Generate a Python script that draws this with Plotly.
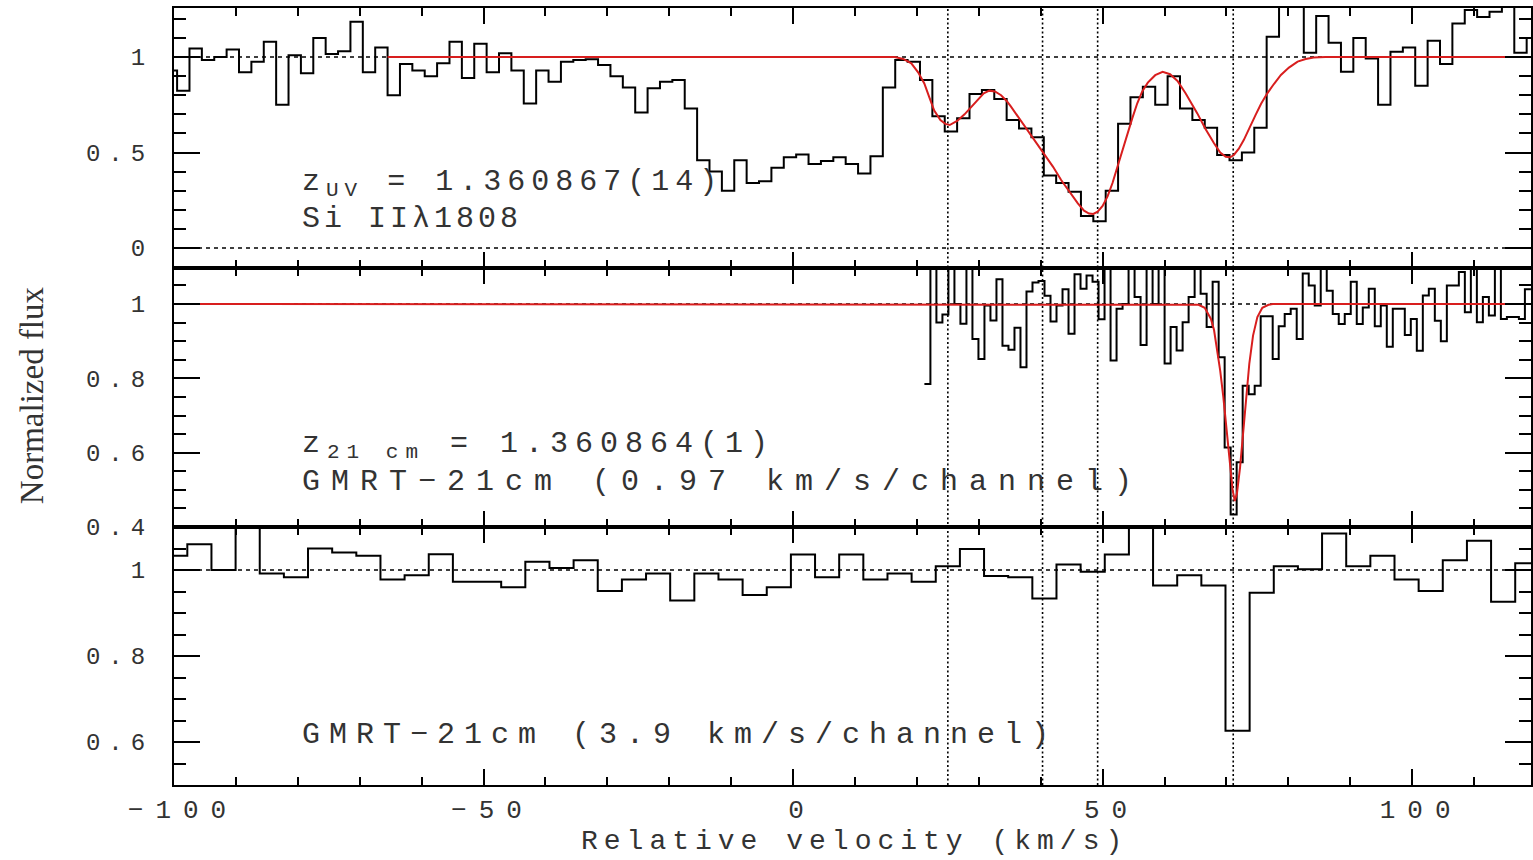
import json
import numpy as np
import plotly.graph_objects as go

# ---------------- data ----------------
# Si II 1808 (UV spectrum), 2 km/s pixels
uv_first_edge = -101.5
uv_pixel_width = 2.0
uv_flux = [
    0.93, 0.824, 1.045, 0.984, 1.0, 1.04, 0.92, 0.976, 1.08, 0.75,
    1.01, 0.915, 1.10, 1.016, 1.03, 1.185, 0.92, 1.05, 0.80, 0.963,
    0.93, 0.90, 0.967, 1.08, 0.89, 1.07, 0.92, 1.02, 0.93, 0.757,
    0.93, 0.87, 0.976, 0.984, 0.988, 0.958, 0.90, 0.84, 0.71, 0.836,
    0.87, 0.88, 0.73, 0.46, 0.40, 0.30, 0.46, 0.34, 0.35, 0.42,
    0.475, 0.49, 0.44, 0.455, 0.475, 0.44, 0.39, 0.48, 0.84, 0.984,
    0.976, 0.88, 0.69, 0.61, 0.68, 0.806, 0.827, 0.78, 0.67, 0.626,
    0.58, 0.38, 0.34, 0.295, 0.167, 0.14, 0.30, 0.65, 0.79, 0.845,
    0.75, 0.90, 0.73, 0.67, 0.63, 0.487, 0.46, 0.50, 0.63, 1.106,
    1.3, 1.3, 1.023, 1.215, 1.075, 0.923, 1.10, 0.993, 0.75, 1.028,
    1.05, 0.85, 1.085, 0.963, 1.176, 1.246, 1.21, 1.237, 1.3, 1.023,
    1.1,
]

# GMRT 21-cm, 0.97 km/s per channel
hr_first_edge = 21.215
hr_channel_width = 0.97
hr_flux = [
    0.785, 1.12, 0.95, 0.972, 1.12, 1.0, 0.947, 1.12, 0.906, 0.852,
    0.996, 0.956, 1.067, 0.888, 0.877, 0.936, 0.83, 1.034, 1.058, 1.062,
    1.022, 0.953, 0.996, 1.04, 0.92, 1.08, 1.041, 1.077, 1.06, 0.959,
    1.12, 0.848, 0.987, 1.0, 1.12, 1.019, 0.89, 1.12, 1.0, 1.1,
    0.84, 0.938, 0.875, 0.951, 1.019, 1.12, 1.028, 0.938, 1.06, 0.857,
    0.614, 0.434, 0.574, 0.78, 0.757, 0.78, 0.967, 0.967, 0.852, 0.94,
    0.973, 0.987, 0.906, 1.082, 1.05, 0.996, 1.12, 1.036, 0.973, 0.946,
    0.973, 1.06, 0.946, 0.991, 1.041, 0.94, 0.996, 0.885, 0.987, 0.987,
    0.917, 0.96, 0.874, 1.023, 1.041, 0.955, 0.9, 1.05, 1.05, 1.086,
    0.978, 1.12, 0.951, 1.019, 0.969, 1.12, 0.96, 0.965, 0.965, 0.96,
    1.04,
]

# GMRT 21-cm, 3.9 km/s per channel
lr_first_edge = -101.75
lr_channel_width = 3.9
lr_flux = [
    1.033, 1.06, 1.0, 1.1, 0.992, 0.983, 1.05, 1.041, 1.033, 0.978,
    0.988, 1.037, 0.973, 0.973, 0.96, 1.019, 1.005, 1.023, 0.951, 0.978,
    0.992, 0.929, 0.992, 0.978, 0.942, 0.96, 1.036, 0.983, 1.036, 0.978,
    0.992, 0.973, 1.009, 1.049, 0.986, 0.983, 0.934, 1.013, 0.996, 1.036,
    1.098, 0.964, 0.988, 0.964, 0.626, 0.947, 1.009, 1.002, 1.085, 1.009,
    1.033, 0.978, 0.951, 1.023, 1.068, 0.926, 1.016,
]

# Fitted profiles (red)
uv_fit_velocity = [
    -65.5, 16.4, 17.8, 19.1, 20.2, 21.2, 22.0, 22.8, 23.8, 24.6, 25.3, 26.5,
    27.7, 28.8, 29.8, 30.8, 31.7, 32.6, 33.6, 34.5, 35.2, 36.5, 37.9, 39.2,
    40.6, 42.0, 43.3, 44.7, 46.0, 47.0, 47.8, 48.5, 49.2, 50.0, 50.8, 51.6,
    52.4, 53.2, 54.0, 54.8, 55.6, 56.4, 57.3, 58.5, 59.7, 60.9, 62.1, 63.4,
    65.3, 66.6, 68.0, 69.0, 69.9, 70.6, 71.2, 72.0, 72.8, 73.7, 74.7, 75.6,
    76.6, 77.7, 78.8, 80.1, 81.5, 82.8, 84.1, 86.0, 119.2,
]
uv_fit_flux = [
    1.0, 1.0, 0.99, 0.967, 0.92, 0.862, 0.79, 0.72, 0.67, 0.65, 0.644, 0.665,
    0.70, 0.74, 0.775, 0.81, 0.824, 0.82, 0.80, 0.77, 0.74, 0.68, 0.618, 0.555,
    0.496, 0.425, 0.356, 0.29, 0.234, 0.195, 0.18, 0.178, 0.19, 0.22, 0.27, 0.34,
    0.426, 0.51, 0.60, 0.68, 0.758, 0.82, 0.866, 0.905, 0.923, 0.91, 0.875, 0.81,
    0.705, 0.625, 0.548, 0.50, 0.478, 0.475, 0.487, 0.52, 0.565, 0.63, 0.696, 0.755,
    0.81, 0.86, 0.906, 0.945, 0.976, 0.99, 0.998, 1.0, 1.0,
]
hr_fit_velocity = [
    -97.6, 64.0, 65.5, 66.5, 67.5, 68.0, 68.5, 69.0, 69.5, 70.0, 70.5, 71.0,
    71.35, 71.7, 72.2, 72.7, 73.2, 73.7, 74.3, 75.0, 75.8, 76.8, 77.5, 119.2,
]
hr_fit_flux = [
    1.0, 1.0, 0.998, 0.99, 0.96, 0.93, 0.88, 0.82, 0.75, 0.66, 0.57, 0.50,
    0.47, 0.49, 0.56, 0.66, 0.75, 0.84, 0.915, 0.965, 0.99, 0.998, 1.0, 1.0,
]

component_velocities = [25.0, 40.3, 49.2, 71.1]
top_reference_levels = [0.0, 1.0]
mid_reference_levels = [1.0]
bot_reference_levels = [1.0]

panel_labels = [
    "z<sub>UV</sub> = 1.360867(14)",
    "Si IIλ1808",
    "z<sub>21 cm</sub> = 1.360864(1)",
    "GMRT−21cm (0.97 km/s/channel)",
    "GMRT−21cm (3.9 km/s/channel)",
]
x_title = "Relative velocity (km/s)"
y_title = "Normalized flux"

# ---------------- figure ----------------
def step_xy(first_edge, width, flux):
    edges = first_edge + width * np.arange(len(flux) + 1)
    return edges, list(flux) + [flux[-1]]

BLACK = "black"
RED = "#d81e1e"
TXT = "#333333"
MONO = "Liberation Mono"

fig = go.Figure()

x_lr, y_lr = step_xy(lr_first_edge, lr_channel_width, lr_flux)
fig.add_trace(go.Scatter(x=x_lr, y=y_lr, mode="lines", line=dict(color=BLACK, width=2, shape="hv"),
                         xaxis="x", yaxis="y", hoverinfo="skip"))

x_hr, y_hr = step_xy(hr_first_edge, hr_channel_width, hr_flux)
fig.add_trace(go.Scatter(x=x_hr, y=y_hr, mode="lines", line=dict(color=BLACK, width=2, shape="hv"),
                         xaxis="x2", yaxis="y2", hoverinfo="skip"))
fig.add_trace(go.Scatter(x=hr_fit_velocity, y=hr_fit_flux, mode="lines", line=dict(color=RED, width=2),
                         xaxis="x2", yaxis="y2", hoverinfo="skip"))

x_uv, y_uv = step_xy(uv_first_edge, uv_pixel_width, uv_flux)
fig.add_trace(go.Scatter(x=x_uv, y=y_uv, mode="lines", line=dict(color=BLACK, width=2, shape="hv"),
                         xaxis="x3", yaxis="y3", hoverinfo="skip"))
fig.add_trace(go.Scatter(x=uv_fit_velocity, y=uv_fit_flux, mode="lines", line=dict(color=RED, width=2),
                         xaxis="x3", yaxis="y3", hoverinfo="skip"))

x_common = dict(
    range=[-100, 119.2], tick0=0, dtick=50, ticks="inside", ticklen=16, tickwidth=1.5,
    tickcolor=BLACK, showline=True, linecolor=BLACK, linewidth=2, mirror="ticks",
    showgrid=False, zeroline=False,
    minor=dict(tick0=0, dtick=10, ticks="inside", ticklen=8, tickwidth=1.5,
               tickcolor=BLACK, showgrid=False),
)
y_common = dict(
    ticks="inside", ticklen=26, tickwidth=1.5, tickcolor=BLACK, showline=True,
    linecolor=BLACK, linewidth=2, mirror="ticks", showgrid=False, zeroline=False,
    tickfont=dict(family=MONO, size=24, color=TXT), ticklabelstandoff=14,
)

fig.update_layout(
    width=1533, height=860,
    margin=dict(l=174, r=0, t=8, b=75, pad=0),
    paper_bgcolor="white", plot_bgcolor="white",
    showlegend=False,
    font=dict(family=MONO, color=TXT),
    xaxis=dict(**x_common, anchor="y", domain=[0, 1],
               tickfont=dict(family=MONO, size=26, color=TXT), ticklabelstandoff=0,
               ticklabelshift=9),
    xaxis2=dict(**x_common, anchor="y2", matches="x", showticklabels=False),
    xaxis3=dict(**x_common, anchor="y3", matches="x", showticklabels=False),
    yaxis=dict(**y_common, domain=[0.0, 0.332], range=[0.5, 1.1], tick0=0, dtick=0.2,
               minor=dict(tick0=0, dtick=0.05, ticks="inside", ticklen=12, tickwidth=1.5, tickcolor=BLACK)),
    yaxis2=dict(**y_common, domain=[0.332, 0.6654], range=[0.4, 1.097], tick0=0, dtick=0.2,
                minor=dict(tick0=0, dtick=0.05, ticks="inside", ticklen=12, tickwidth=1.5, tickcolor=BLACK)),
    yaxis3=dict(**y_common, domain=[0.6654, 1.0], range=[-0.105, 1.257], tick0=0, dtick=0.5,
                minor=dict(tick0=0, dtick=0.1, ticks="inside", ticklen=12, tickwidth=1.5, tickcolor=BLACK)),
)

shapes = []
for v in component_velocities:
    shapes.append(dict(type="line", xref="x", yref="paper", x0=v, x1=v, y0=0, y1=1,
                       line=dict(color=BLACK, width=1.6, dash="2px,2.5px"), layer="below"))
for yref, levels in (("y3", top_reference_levels), ("y2", mid_reference_levels), ("y", bot_reference_levels)):
    for lv in levels:
        shapes.append(dict(type="line", xref="paper", yref=yref, x0=0, x1=1, y0=lv, y1=lv,
                           line=dict(color=BLACK, width=1.6, dash="4px,4px"), layer="below"))
fig.update_layout(shapes=shapes)

label_pos = [(0.0927, 0.7735), (0.0927, 0.7285), (0.0927, 0.4363), (0.0927, 0.390), (0.0927, 0.0644)]
annotations = []
for text, (px, py) in zip(panel_labels, label_pos):
    annotations.append(dict(text=text, xref="paper", yref="paper", x=px, y=py,
                            xanchor="left", yanchor="middle", align="left", showarrow=False,
                            font=dict(family=MONO, size=30, color=TXT)))
annotations.append(dict(text=x_title, xref="paper", yref="paper", x=0.5018, y=-0.0725,
                        xanchor="center", yanchor="middle", showarrow=False,
                        font=dict(family=MONO, size=28, color=TXT)))
annotations.append(dict(text=y_title, xref="paper", yref="paper", x=-0.1045, y=0.502,
                        xanchor="center", yanchor="middle", showarrow=False, textangle=-90,
                        font=dict(family="Liberation Serif", size=33, color=TXT)))
fig.update_layout(annotations=annotations)

css = """
.xtick text { letter-spacing: 12px; }
.ytick text, .y2tick text, .y3tick text { letter-spacing: 8px; }
.annotation[data-index="0"] text { letter-spacing: 6px; }
.annotation[data-index="1"] text { letter-spacing: 4px; }
.annotation[data-index="2"] text { letter-spacing: 7px; }
.annotation[data-index="3"] text { letter-spacing: 11px; }
.annotation[data-index="4"] text { letter-spacing: 9px; }
.annotation[data-index="5"] text { letter-spacing: 6px; }
"""
post_script = ("var st=document.createElement('style'); st.textContent=" + json.dumps(css) +
               "; document.head.appendChild(st);")

fig.write_html("out.html", post_script=post_script)
